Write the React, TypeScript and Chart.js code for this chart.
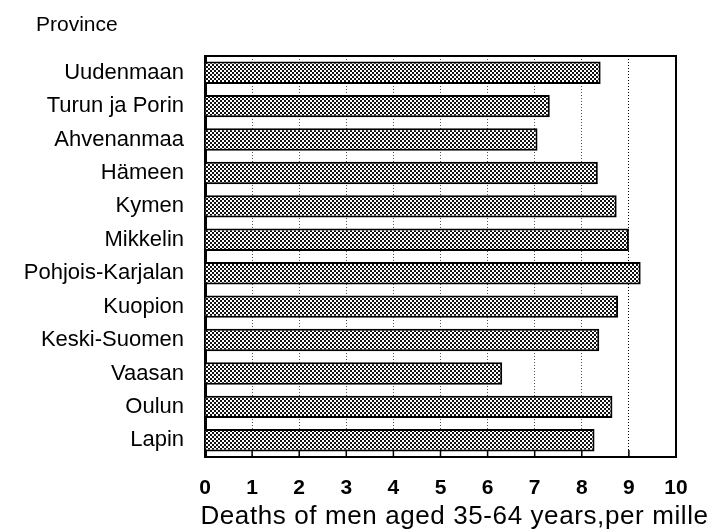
import React, { useEffect, useRef } from "react";
import { Chart, registerables } from "chart.js";

Chart.register(...registerables);

const provinces = [
  "Uudenmaan",
  "Turun ja Porin",
  "Ahvenanmaa",
  "Hämeen",
  "Kymen",
  "Mikkelin",
  "Pohjois-Karjalan",
  "Kuopion",
  "Keski-Suomen",
  "Vaasan",
  "Oulun",
  "Lapin",
];
const deaths = [8.4, 7.32, 7.06, 8.34, 8.74, 9.0, 9.25, 8.77, 8.37, 6.31, 8.65, 8.27];
const xMin = 0;
const xMax = 10;
const xTitle = "Deaths of men aged 35-64 years,per mille";
const yTitle = "Province";

const FONT = "'Liberation Sans', Arial, Helvetica, sans-serif";

function makePattern(ctx: CanvasRenderingContext2D) {
  const c = document.createElement("canvas");
  c.width = 4;
  c.height = 4;
  const p = c.getContext("2d")!;
  p.fillStyle = "#ffffff";
  p.fillRect(0, 0, 4, 4);
  p.fillStyle = "#111111";
  for (let y = 0; y < 4; y++) {
    for (let x = 0; x < 4; x++) {
      if (((x >> 1) + (y >> 1)) % 2 === 0) p.fillRect(x, y, 1, 1);
    }
  }
  return ctx.createPattern(c, "repeat")!;
}

const framePlugin = {
  id: "frame",
  afterDatasetsDraw(chart: any) {
    const { ctx, chartArea, scales } = chart;
    const { left, right, top, bottom } = chartArea;
    const x = scales.x;
    ctx.save();
    ctx.strokeStyle = "#000";
    ctx.lineWidth = 2;
    ctx.beginPath();
    ctx.moveTo(left, top);
    ctx.lineTo(right, top);
    ctx.lineTo(right, bottom);
    ctx.stroke();
    ctx.lineWidth = 1.5;
    ctx.beginPath();
    x.ticks.forEach((t: any) => {
      const px = x.getPixelForValue(t.value);
      ctx.moveTo(px, bottom);
      ctx.lineTo(px, bottom - 7);
    });
    ctx.stroke();
    ctx.restore();
  },
};

const textPlugin = {
  id: "texts",
  afterDraw(chart: any) {
    const { ctx, chartArea } = chart;
    const { left, right, top, bottom } = chartArea;
    ctx.save();
    ctx.fillStyle = "#000";
    ctx.textBaseline = "middle";
    ctx.font = `21px ${FONT}`;
    ctx.textAlign = "left";
    ctx.fillText(yTitle, left - 169, top - 31);
    ctx.font = `26px ${FONT}`;
    try {
      (ctx as any).letterSpacing = "0.6px";
    } catch (e) {}
    ctx.textAlign = "center";
    ctx.fillText(xTitle, (left + right) / 2 + 14, bottom + 60);
    ctx.restore();
  },
};

export default function App() {
  const ref = useRef<HTMLCanvasElement | null>(null);

  useEffect(() => {
    document.body.style.margin = "0";
    const canvas = ref.current!;
    const ctx = canvas.getContext("2d")!;
    const pattern = makePattern(ctx);
    const chart = new Chart(canvas, {
      type: "bar",
      data: {
        labels: provinces,
        datasets: [
          {
            data: deaths,
            backgroundColor: pattern,
            borderColor: "#000",
            borderWidth: 2,
            barPercentage: 0.67,
            categoryPercentage: 1,
          },
        ],
      },
      options: {
        indexAxis: "y",
        animation: false,
        responsive: false,
        maintainAspectRatio: false,
        layout: { padding: { left: 0, right: 37, top: 56, bottom: 0 } },
        plugins: {
          legend: { display: false },
          tooltip: { enabled: false },
          title: { display: false },
        },
        scales: {
          x: {
            type: "linear",
            min: xMin,
            max: xMax,
            afterFit(scale: any) {
              scale.height = 73;
            },
            ticks: {
              stepSize: 1,
              color: "#000",
              padding: 19,
              font: { family: FONT, size: 21, weight: "bold" },
            },
            grid: {
              drawTicks: false,
              color: (c: any) =>
                c.tick && c.tick.value === 9
                  ? "#000"
                  : c.tick && (c.tick.value === 0 || c.tick.value === 10)
                  ? "rgba(0,0,0,0)"
                  : "#555",
              lineWidth: 1,
            },
            border: { display: true, color: "#000", width: 2, dash: [1, 2] },
            title: { display: false },
          },
          y: {
            afterFit(scale: any) {
              scale.width = 205;
            },
            ticks: {
              color: "#000",
              padding: 21,
              font: { family: FONT, size: 22, weight: "normal" },
            },
            grid: { display: false, drawTicks: false },
            border: { display: true, color: "#000", width: 3 },
          },
        },
      },
      plugins: [framePlugin, textPlugin],
    });
    return () => chart.destroy();
  }, []);

  return (
    <div style={{ width: 713, height: 530 }}>
      <canvas ref={ref} width={713} height={530} style={{ display: "block", width: 713, height: 530 }} />
    </div>
  );
}
